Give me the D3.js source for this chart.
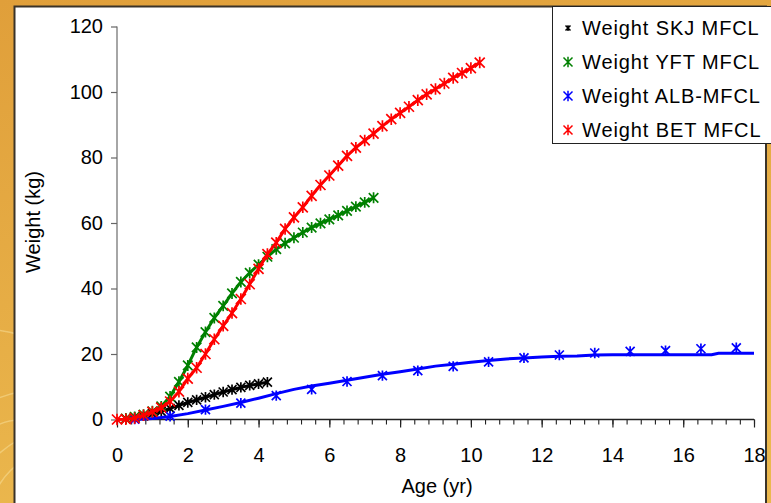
<!DOCTYPE html>
<html>
<head>
<meta charset="utf-8">
<script src="https://cdn.jsdelivr.net/npm/d3@7"></script>
<style>
html,body{margin:0;padding:0;background:#E4A740;}
svg{display:block;}
text{font-family:"Liberation Sans",Arial,sans-serif;}
</style>
</head>
<body>
<svg id="chart" width="771" height="503"></svg>
<script>
// ---- data ----
const xTicks = [0,2,4,6,8,10,12,14,16,18];
const yTicks = [0,20,40,60,80,100,120];
const seriesNames = ["Weight SKJ MFCL","Weight YFT MFCL","Weight ALB-MFCL","Weight BET MFCL"];
const seriesColors = ["#000000","#008000","#0000FF","#FF0000"];

const skjAge = [0.25,0.5,0.75,1.0,1.25,1.5,1.75,2.0,2.25,2.5,2.75,3.0,3.25,3.5,3.75,4.0,4.25];
const skjWeight = [0.2,0.6,1.1,1.7,2.5,3.4,4.3,5.2,6.0,6.8,7.6,8.4,9.1,9.8,10.4,10.9,11.4];

const yftAge = [0.25,0.5,0.75,1.0,1.25,1.5,1.75,2.0,2.25,2.5,2.75,3.0,3.25,3.5,3.75,4.0,4.25,4.5,4.75,5.0,5.25,5.5,5.75,6.0,6.25,6.5,6.75,7.0,7.25];
const yftWeight = [0.3,0.8,1.5,2.5,4.0,7.0,11.5,16.5,22.0,26.7,31.0,34.7,38.5,42.0,44.8,47.3,49.7,52.0,53.8,55.5,57.1,58.6,59.9,61.1,62.3,63.7,65.0,66.3,67.7];

const betAge = [0,0.25,0.5,0.75,1.0,1.25,1.5,1.75,2.0,2.25,2.5,2.75,3.0,3.25,3.5,3.75,4.0,4.25,4.5,4.75,5.0,5.25,5.5,5.75,6.0,6.25,6.5,6.75,7.0,7.25,7.5,7.75,8.0,8.25,8.5,8.75,9.0,9.25,9.5,9.75,10.0,10.25];
const betWeight = [0,0.1,0.4,1.3,2.3,3.6,5.5,8.5,12.5,15.8,20.0,24.5,28.6,32.5,36.8,41.3,46.0,50.5,54.0,58.2,61.7,64.8,68.3,71.6,74.5,77.5,80.5,83.0,85.2,87.3,89.6,91.7,93.6,95.5,97.5,99.3,100.9,102.6,104.3,105.8,107.3,109.0];

const albMarkAge = [0.5,1.5,2.5,3.5,4.5,5.5,6.5,7.5,8.5,9.5,10.5,11.5,12.5,13.5,14.5,15.5,16.5,17.5];
const albMarkWeight = [0.1,1.0,3.0,5.0,7.3,9.2,11.6,13.4,14.9,16.2,17.6,18.8,19.7,20.3,20.8,21.0,21.6,21.9];

const albLineAge = [0.5,1.0,1.5,2.0,2.5,3.0,3.5,4.0,4.5,5.0,5.5,6.0,6.5,7.0,7.5,8.0,8.5,9.0,9.5,10.0,10.5,11.0,11.5,12.0,12.5,13.0,13.5,14.0,15.0,16.0,16.8,17.0,18.0];
const albLineWeight = [0.0,0.3,0.9,1.8,2.9,4.0,5.2,6.5,7.9,9.2,10.2,11.1,12.0,12.9,13.8,14.6,15.4,16.3,16.9,17.5,18.0,18.5,18.8,19.1,19.3,19.4,19.7,19.8,19.8,19.8,19.8,20.2,20.2];

// ---- layout ----
const svg = d3.select("#chart");
const W = 771, H = 503;
const x = d3.scaleLinear().domain([0,18]).range([117,754]);
const y = d3.scaleLinear().domain([0,120]).range([419.5,26.5]);

// background texture
const defs = svg.append("defs");
const bg = defs.append("linearGradient").attr("id","bg").attr("x1",0).attr("y1",0).attr("x2",0.3).attr("y2",1);
bg.append("stop").attr("offset","0%").attr("stop-color","#E09F3A");
bg.append("stop").attr("offset","100%").attr("stop-color","#EBB84E");
svg.append("rect").attr("width",W).attr("height",H).attr("fill","url(#bg)");
const swirl = svg.append("g").attr("fill","none").attr("stroke","#FBE7A6").attr("stroke-opacity",0.45).attr("stroke-width",1.5);
[[60,520,70],[40,500,110],[90,560,140],[20,470,50],[-10,420,90]].forEach(c=>{
  swirl.append("circle").attr("cx",c[0]).attr("cy",c[1]).attr("r",c[2]);
});

// white panel
svg.append("rect").attr("x",14.5).attr("y",6.5).attr("width",751.5).attr("height",H)
  .attr("fill","#FFFFFF").attr("stroke","#3A3328").attr("stroke-width",2);

// axes
const fs = 20;
// y axis
const yAxis = d3.axisLeft(y).tickValues(yTicks).tickSize(6).tickPadding(8).tickFormat(d3.format("d"));
const gy = svg.append("g").attr("transform",`translate(${x(0)},0)`).call(yAxis);
gy.select(".domain").attr("stroke","#888").attr("stroke-width",1.5).attr("d",`M-0,${y(0)+4}V${y(120)}`);
gy.selectAll(".tick line").attr("stroke","#666").attr("stroke-width",1.2);
gy.selectAll(".tick text").attr("font-size",fs).attr("fill","#000").attr("font-family","Liberation Sans, Arial, sans-serif");

// x axis minor ticks
const minor = d3.range(0,18.001,0.4).map(v=>+v.toFixed(2));
const gxm = svg.append("g").attr("transform",`translate(0,${y(0)})`)
  .call(d3.axisBottom(x).tickValues(minor).tickSize(5).tickFormat(""));
gxm.select(".domain").remove();
gxm.selectAll(".tick line").attr("stroke","#222").attr("stroke-width",1.1);
const gx = svg.append("g").attr("transform",`translate(0,${y(0)})`)
  .call(d3.axisBottom(x).tickValues(xTicks).tickSize(8).tickPadding(20).tickFormat(d3.format("d")));
gx.select(".domain").attr("stroke","#222").attr("stroke-width",1.3).attr("d",`M${x(0)},0H${x(18)}`);
gx.selectAll(".tick line").attr("stroke","#222").attr("stroke-width",1.2);
gx.selectAll(".tick text").attr("font-size",fs).attr("fill","#000").attr("font-family","Liberation Sans, Arial, sans-serif");

// axis titles
svg.append("text").attr("x",437).attr("y",493).attr("text-anchor","middle").attr("font-size",fs).text("Age (yr)");
svg.append("text").attr("transform","translate(40,222) rotate(-90)").attr("text-anchor","middle").attr("font-size",fs).text("Weight (kg)");

// marker (asterisk: X + vertical bar)
function star(s){
  const h = s/2;
  return `M${-h},${-h}L${h},${h}M${-h},${h}L${h},${-h}M0,${-h*1.15}L0,${h*1.15}`;
}

const line = d3.line().x(d=>x(d[0])).y(d=>y(d[1]));
const plot = svg.append("g");

function drawSeries(ages, weights, color, withLine, withMarks, ms){
  const pts = ages.map((a,i)=>[a,weights[i]]);
  if(withLine){
    plot.append("path").datum(pts).attr("d",line).attr("fill","none")
      .attr("stroke",color).attr("stroke-width",3).attr("stroke-linejoin","round");
  }
  if(withMarks){
    plot.append("g").selectAll("path").data(pts).join("path")
      .attr("transform",d=>`translate(${x(d[0])},${y(d[1])})`)
      .attr("d",star(ms)).attr("fill","none").attr("stroke",color).attr("stroke-width",1.7);
  }
}

drawSeries(skjAge, skjWeight, seriesColors[0], true, true, 9);
drawSeries(yftAge, yftWeight, seriesColors[1], true, true, 9.5);
drawSeries(albLineAge, albLineWeight, seriesColors[2], true, false, 9);
drawSeries(albMarkAge, albMarkWeight, seriesColors[2], false, true, 9);
drawSeries(betAge, betWeight, seriesColors[3], true, true, 10);

// legend
const lg = svg.append("g");
lg.append("rect").attr("x",552.5).attr("y",6.5).attr("width",219).attr("height",137)
  .attr("fill","#FFFFFF").attr("stroke","#222").attr("stroke-width",1);
seriesNames.forEach((n,i)=>{
  const by = 35 + 34*i;
  lg.append("path").attr("transform",`translate(568,${by-7})`).attr("d",star(i===0?5:9))
    .attr("fill","none").attr("stroke",seriesColors[i]).attr("stroke-width",1.5);
  lg.append("text").attr("x",582).attr("y",by).attr("font-size",fs).attr("letter-spacing","0.9px").attr("fill","#000").text(n);
});
</script>
</body>
</html>
